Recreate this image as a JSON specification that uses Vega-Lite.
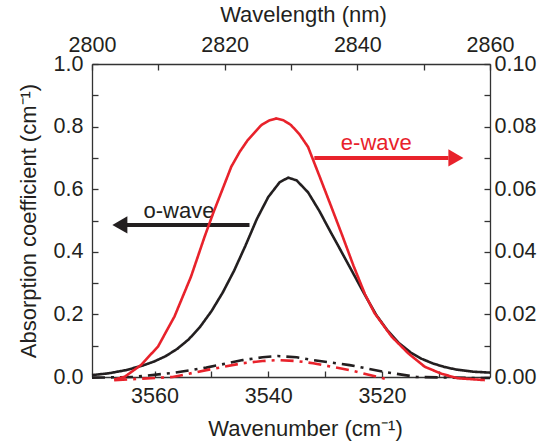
{
  "$schema": "https://vega.github.io/schema/vega-lite/v6.json",
  "width": 398,
  "height": 313,
  "autosize": "none",
  "padding": {"left": 92, "top": 64, "right": 51, "bottom": 70},
  "background": "white",
  "config": {
    "font": "Liberation Sans",
    "view": {"stroke": null},
    "axis": {
      "domainColor": "#333333",
      "tickColor": "#333333",
      "labelColor": "#231f20",
      "titleColor": "#231f20",
      "labelFontSize": 21.5,
      "titleFontSize": 22,
      "titleFontWeight": "normal",
      "tickSize": -6,
      "tickWidth": 1.3,
      "domainWidth": 1.3,
      "grid": false,
      "labelPadding": 14,
      "labelFlush": false
    }
  },
  "datasets": {
    "owave": [
      {"wn": 3571.0, "a": 0.006, "style": "solid"},
      {"wn": 3568.0, "a": 0.012, "style": "solid"},
      {"wn": 3565.0, "a": 0.022, "style": "solid"},
      {"wn": 3562.0, "a": 0.037, "style": "solid"},
      {"wn": 3560.0, "a": 0.050, "style": "solid"},
      {"wn": 3558.0, "a": 0.067, "style": "solid"},
      {"wn": 3556.0, "a": 0.090, "style": "solid"},
      {"wn": 3554.0, "a": 0.120, "style": "solid"},
      {"wn": 3552.0, "a": 0.160, "style": "solid"},
      {"wn": 3550.0, "a": 0.210, "style": "solid"},
      {"wn": 3548.0, "a": 0.270, "style": "solid"},
      {"wn": 3546.0, "a": 0.340, "style": "solid"},
      {"wn": 3544.0, "a": 0.420, "style": "solid"},
      {"wn": 3542.0, "a": 0.505, "style": "solid"},
      {"wn": 3540.0, "a": 0.575, "style": "solid"},
      {"wn": 3538.0, "a": 0.622, "style": "solid"},
      {"wn": 3536.5, "a": 0.637, "style": "solid"},
      {"wn": 3535.0, "a": 0.628, "style": "solid"},
      {"wn": 3533.0, "a": 0.590, "style": "solid"},
      {"wn": 3531.0, "a": 0.530, "style": "solid"},
      {"wn": 3529.0, "a": 0.462, "style": "solid"},
      {"wn": 3527.0, "a": 0.396, "style": "solid"},
      {"wn": 3525.0, "a": 0.329, "style": "solid"},
      {"wn": 3523.0, "a": 0.262, "style": "solid"},
      {"wn": 3521.0, "a": 0.198, "style": "solid"},
      {"wn": 3519.0, "a": 0.148, "style": "solid"},
      {"wn": 3517.0, "a": 0.108, "style": "solid"},
      {"wn": 3515.0, "a": 0.079, "style": "solid"},
      {"wn": 3513.0, "a": 0.058, "style": "solid"},
      {"wn": 3511.0, "a": 0.043, "style": "solid"},
      {"wn": 3509.0, "a": 0.032, "style": "solid"},
      {"wn": 3507.0, "a": 0.024, "style": "solid"},
      {"wn": 3504.0, "a": 0.017, "style": "solid"},
      {"wn": 3501.0, "a": 0.014, "style": "solid"},
      {"wn": 3571.0, "a": -0.002, "style": "dashdot"},
      {"wn": 3563.8, "a": 0.000, "style": "dashdot"},
      {"wn": 3556.8, "a": 0.013, "style": "dashdot"},
      {"wn": 3550.9, "a": 0.030, "style": "dashdot"},
      {"wn": 3544.5, "a": 0.054, "style": "dashdot"},
      {"wn": 3541.0, "a": 0.063, "style": "dashdot"},
      {"wn": 3538.3, "a": 0.067, "style": "dashdot"},
      {"wn": 3535.0, "a": 0.063, "style": "dashdot"},
      {"wn": 3532.1, "a": 0.054, "style": "dashdot"},
      {"wn": 3525.7, "a": 0.038, "style": "dashdot"},
      {"wn": 3519.8, "a": 0.017, "style": "dashdot"},
      {"wn": 3513.9, "a": 0.000, "style": "dashdot"},
      {"wn": 3504.6, "a": -0.003, "style": "dashdot"},
      {"wn": 3501.0, "a": -0.003, "style": "dashdot"}
    ],
    "ewave": [
      {"wn": 3567.1, "a": -0.0008, "style": "solid"},
      {"wn": 3565.3, "a": 0.0000, "style": "solid"},
      {"wn": 3562.4, "a": 0.0038, "style": "solid"},
      {"wn": 3559.4, "a": 0.0097, "style": "solid"},
      {"wn": 3556.5, "a": 0.0193, "style": "solid"},
      {"wn": 3553.6, "a": 0.0320, "style": "solid"},
      {"wn": 3551.2, "a": 0.0448, "style": "solid"},
      {"wn": 3549.7, "a": 0.0523, "style": "solid"},
      {"wn": 3548.0, "a": 0.0602, "style": "solid"},
      {"wn": 3546.5, "a": 0.0672, "style": "solid"},
      {"wn": 3545.0, "a": 0.0720, "style": "solid"},
      {"wn": 3543.6, "a": 0.0757, "style": "solid"},
      {"wn": 3541.2, "a": 0.0805, "style": "solid"},
      {"wn": 3539.8, "a": 0.0820, "style": "solid"},
      {"wn": 3538.6, "a": 0.0826, "style": "solid"},
      {"wn": 3537.3, "a": 0.0820, "style": "solid"},
      {"wn": 3536.0, "a": 0.0805, "style": "solid"},
      {"wn": 3534.5, "a": 0.0775, "style": "solid"},
      {"wn": 3533.0, "a": 0.0735, "style": "solid"},
      {"wn": 3531.0, "a": 0.0642, "style": "solid"},
      {"wn": 3529.0, "a": 0.0548, "style": "solid"},
      {"wn": 3527.0, "a": 0.0453, "style": "solid"},
      {"wn": 3525.0, "a": 0.0355, "style": "solid"},
      {"wn": 3523.0, "a": 0.0265, "style": "solid"},
      {"wn": 3521.3, "a": 0.0204, "style": "solid"},
      {"wn": 3518.3, "a": 0.0129, "style": "solid"},
      {"wn": 3515.4, "a": 0.0076, "style": "solid"},
      {"wn": 3512.5, "a": 0.0033, "style": "solid"},
      {"wn": 3509.5, "a": 0.0010, "style": "solid"},
      {"wn": 3506.6, "a": -0.0004, "style": "solid"},
      {"wn": 3501.9, "a": -0.0010, "style": "solid"},
      {"wn": 3567.1, "a": -0.0010, "style": "dashdot"},
      {"wn": 3556.8, "a": 0.0000, "style": "dashdot"},
      {"wn": 3550.9, "a": 0.0022, "style": "dashdot"},
      {"wn": 3544.5, "a": 0.0044, "style": "dashdot"},
      {"wn": 3541.0, "a": 0.0051, "style": "dashdot"},
      {"wn": 3538.3, "a": 0.0054, "style": "dashdot"},
      {"wn": 3535.0, "a": 0.0051, "style": "dashdot"},
      {"wn": 3532.1, "a": 0.0044, "style": "dashdot"},
      {"wn": 3525.7, "a": 0.0022, "style": "dashdot"},
      {"wn": 3519.8, "a": -0.0004, "style": "dashdot"},
      {"wn": 3518.5, "a": -0.0010, "style": "dashdot"}
    ]
  },
  "layer": [
    {
      "encoding": {
        "x": {
          "field": "wn", "type": "quantitative",
          "scale": {"domain": [3501, 3571], "reverse": true, "nice": false, "zero": false},
          "axis": {
            "orient": "bottom",
            "title": "Wavenumber (cm⁻¹)",
            "values": [3560, 3550, 3540, 3530, 3520, 3510],
            "labelExpr": "datum.value % 20 == 0 ? format(datum.value, 'd') : ''",
            "titlePadding": 12,
            "titleX": 213
          }
        },
        "y": {
          "field": "a", "type": "quantitative",
          "scale": {"domain": [0, 1], "nice": false, "zero": false},
          "axis": {
            "orient": "left",
            "title": "Absorption coefficient (cm⁻¹)",
            "values": [0, 0.1, 0.2, 0.3, 0.4, 0.5, 0.6, 0.7, 0.8, 0.9, 1.0],
            "labelExpr": "round(datum.value * 10) % 2 == 0 ? format(datum.value, '.1f') : ''",
            "labelPadding": 15,
            "titlePadding": 13
          }
        }
      },
      "layer": [
        {
          "data": {"name": "owave"},
          "mark": {"type": "line", "color": "#231f20", "strokeWidth": 2.6},
          "encoding": {
            "strokeDash": {
              "field": "style", "type": "nominal",
              "scale": {"domain": ["solid", "dashdot"], "range": [[1, 0], [13, 6, 3, 6]]},
              "legend": null
            },
            "order": {"field": "wn", "sort": "descending"}
          }
        },
        {
          "data": {"values": [{"wn": 3543.3, "wn2": 3565.0, "a": 0.486}]},
          "mark": {"type": "rule", "color": "#231f20", "strokeWidth": 4},
          "encoding": {"x2": {"field": "wn2"}}
        },
        {
          "data": {"values": [{"wn": 3566.1, "a": 0.486}]},
          "mark": {"type": "point", "shape": "triangle-left", "size": 300, "filled": true, "opacity": 1, "color": "#231f20", "strokeWidth": 0}
        },
        {
          "data": {"values": [{"wn": 3555.7, "a": 0.53, "label": "o-wave"}]},
          "mark": {"type": "text", "fontSize": 22, "color": "#231f20", "align": "center", "baseline": "middle"},
          "encoding": {"text": {"field": "label"}}
        }
      ]
    },
    {
      "encoding": {
        "x": {
          "field": "wn", "type": "quantitative",
          "scale": {"domain": [3501, 3571], "reverse": true, "nice": false, "zero": false},
          "axis": null
        },
        "y": {
          "field": "a", "type": "quantitative",
          "scale": {"domain": [0, 0.1], "nice": false, "zero": false},
          "axis": {
            "orient": "right",
            "title": null,
            "values": [0, 0.01, 0.02, 0.03, 0.04, 0.05, 0.06, 0.07, 0.08, 0.09, 0.1],
            "labelExpr": "round(datum.value * 100) % 2 == 0 ? format(datum.value, '.2f') : ''",
            "labelPadding": 10
          }
        }
      },
      "layer": [
        {
          "data": {"name": "ewave"},
          "mark": {"type": "line", "color": "#e8222b", "strokeWidth": 2.6},
          "encoding": {
            "strokeDash": {
              "field": "style", "type": "nominal",
              "scale": {"domain": ["solid", "dashdot"], "range": [[1, 0], [13, 6, 3, 6]]},
              "legend": null
            },
            "order": {"field": "wn", "sort": "descending"}
          }
        },
        {
          "data": {"values": [{"wn": 3531.9, "wn2": 3508.3, "a": 0.070}]},
          "mark": {"type": "rule", "color": "#e8222b", "strokeWidth": 4},
          "encoding": {"x2": {"field": "wn2"}}
        },
        {
          "data": {"values": [{"wn": 3507.0, "a": 0.070}]},
          "mark": {"type": "point", "shape": "triangle-right", "size": 300, "filled": true, "opacity": 1, "color": "#e8222b", "strokeWidth": 0}
        },
        {
          "data": {"values": [{"wn": 3521.0, "a": 0.0748, "label": "e-wave"}]},
          "mark": {"type": "text", "fontSize": 22, "color": "#e8222b", "align": "center", "baseline": "middle"},
          "encoding": {"text": {"field": "label"}}
        }
      ]
    },
    {
      "data": {"values": [{"wl": 2800}, {"wl": 2860}]},
      "mark": {"type": "point", "opacity": 0},
      "encoding": {
        "x": {
          "field": "wl", "type": "quantitative",
          "scale": {"domain": [2800, 2860], "nice": false, "zero": false},
          "axis": {
            "orient": "top",
            "title": "Wavelength (nm)",
            "values": [2800, 2810, 2820, 2830, 2840, 2850, 2860],
            "labelExpr": "datum.value % 20 == 0 ? format(datum.value, 'd') : ''",
            "titlePadding": 8,
            "titleX": 211
          }
        }
      }
    }
  ],
  "resolve": {"scale": {"x": "independent", "y": "independent"}}
}
